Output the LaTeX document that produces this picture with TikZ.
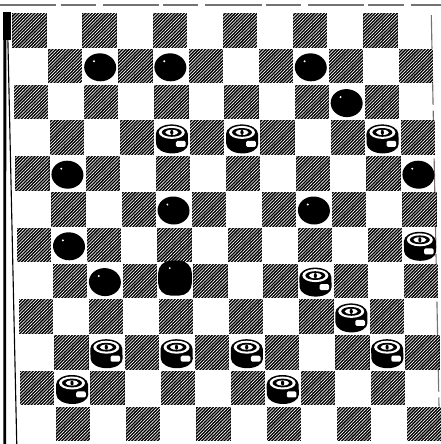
\documentclass[tikz,border=0pt]{standalone}
\usetikzlibrary{patterns.meta}

\tikzset{
  darksq/.style={fill=black,
    postaction={pattern={Lines[angle=45,distance=1.6pt,line width=0.45pt]},pattern color=white}},
  frameline/.style={black!55,line width=0.8pt},
  pics/blackman/.style={code={
    \fill[black] (0,0) ellipse[x radius=16,y radius=14];
    \fill[white] (-6,-6) circle[radius=1.1];
  }},
  pics/blackking/.style={code={
    \fill[black,rounded corners=9] (-16.5,-21.5) rectangle (16.5,13.5);
    \fill[white] (-5,-14) circle[radius=1];
  }},
  pics/whiteman/.style={code={
    \fill[black] (-16,-5) arc[start angle=180,end angle=360,x radius=16,y radius=9.5]
      -- (16,5) arc[start angle=0,end angle=180,x radius=16,y radius=9.5] -- cycle;
    \fill[white] (0,-6.5) ellipse[x radius=13,y radius=6.5];
    \fill[black] (0,-6.5) ellipse[x radius=10,y radius=4.4];
    \fill[white] (0,-6.5) ellipse[x radius=6.5,y radius=2.6];
    \fill[black] (0,-6.5) ellipse[x radius=1.6,y radius=2.6];
    \fill[white,rounded corners=1] (4,2) rectangle (13.5,8);
  }},
}

\begin{document}
\begin{tikzpicture}[x={(0.25mm,0)},y={(0.0055mm,-0.25mm)}]
\useasboundingbox (0mm,0mm) rectangle (110.25mm,-111mm);
% frame
\draw[frameline,dash pattern=on 40pt off 3pt on 25pt off 5pt] (0,5) -- (441,5);
\fill[black] (3,12) rectangle (10,40);
\draw[line width=2pt] (4.5,18) -- (-5,444);
\draw[line width=0.8pt] (7,20) -- (7,444);
\draw[frameline,dash pattern=on 30pt off 4pt] (431,15) -- (430,440);
% dark squares
\foreach \r in {0,...,11}{
  \foreach \k in {0,...,5}{
    \pgfmathtruncatemacro{\c}{2*\k+mod(\r,2)}
    \fill[darksq] ({12+35.1*\c},{13+35.8*\r}) rectangle ++(33.5,34.5);
  }
}
% black men
\foreach \c/\r in {2/1,4/1,8/1,9/2,1/4,11/4,4/5,8/5,1/6,2/7}
  \pic at ({12+35.1*\c+16.5},{13+35.8*\r+18.5}) {blackman};
\pic at ({12+35.1*4+16.5},{13+35.8*7+18.5}) {blackking};
% white men
\foreach \c/\r in {4/3,6/3,10/3,11/6,8/7,9/8,2/9,4/9,6/9,10/9,1/10,7/10}
  \pic at ({12+35.1*\c+16.5},{13+35.8*\r+18.5}) {whiteman};
\end{tikzpicture}
\end{document}
